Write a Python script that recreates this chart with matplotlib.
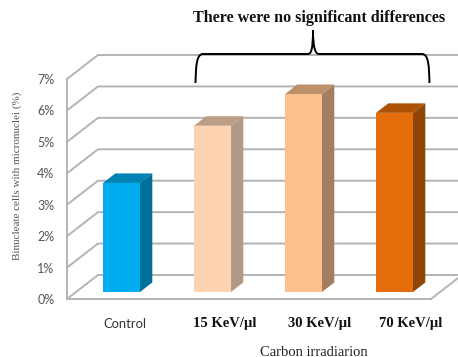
import matplotlib
matplotlib.use("Agg")
import matplotlib.pyplot as plt
from matplotlib.patches import PathPatch, Polygon
from matplotlib.path import Path
from matplotlib.transforms import Affine2D

categories = ["Control", "15 KeV/µl", "30 KeV/µl", "70 KeV/µl"]
values = [3.47, 5.29, 6.30, 5.70]
y_ticks = [0, 1, 2, 3, 4, 5, 6, 7]
y_tick_labels = ["0%", "1%", "2%", "3%", "4%", "5%", "6%", "7%"]
y_label = "Binucleate cells with micronuclei (%)"
x_label = "Carbon irradiarion"
note = "There were no significant differences"

front_colors = ["#00AEEF", "#FDD3B1", "#FBC08D", "#E56D0B"]
side_colors = ["#00709A", "#B09A85", "#A37F5F", "#8F4504"]
top_colors = ["#0083B3", "#BC9E84", "#BC9068", "#AB5204"]
grid_color = "#B4B4B4"

W, H = 458, 357
fig = plt.figure(figsize=(W / 100, H / 100), dpi=100, facecolor="white")
# front plane of the fake 3D box, in image pixels: x 67-431, y 79-299
ax = fig.add_axes([67 / W, (H - 299) / H, 364 / W, 220 / H])
ax.set_xlim(-0.5, 3.5)
ax.set_ylim(0, 7)
ux = 4 / 364  # data units per pixel
uy = 7 / 220

for s in ("top", "right"):
    ax.spines[s].set_visible(False)
for s in ("left", "bottom"):
    ax.spines[s].set_color(grid_color)
    ax.spines[s].set_linewidth(1.4)
ax.set_xticks([])
ax.set_yticks(y_ticks)
ax.set_yticklabels(y_tick_labels, fontfamily="Lato", fontsize=9, color="#555555")
ax.tick_params(axis="y", length=0, pad=9)

# walls
wall_dx, wall_dy = 31 * ux, 24 * uy
for v in y_ticks:
    ax.plot([-0.5, -0.5 + wall_dx, 3.6 + wall_dx], [v, v + wall_dy, v + wall_dy],
            color=grid_color, lw=1.4, clip_on=False, zorder=1)
ax.plot([3.5, 3.5 + wall_dx], [0, wall_dy], color=grid_color, lw=1.4,
        clip_on=False, zorder=1)

# bars, front face sits a little behind the front plane
shift_x, shift_y = 9 * ux, 7 * uy
bar_w = 37 * ux
depth_x, depth_y = 12.3 * ux, 9.5 * uy
for i, val in enumerate(values):
    cx = i + shift_x
    left, right = cx - bar_w / 2, cx + bar_w / 2
    top = shift_y + val
    ax.bar(cx, val, bar_w, bottom=shift_y, color=front_colors[i], zorder=3)
    ax.add_patch(Polygon(
        [(right, shift_y), (right + depth_x, shift_y + depth_y),
         (right + depth_x, top + depth_y), (right, top)],
        color=side_colors[i], lw=0, zorder=3, clip_on=False))
    ax.add_patch(Polygon(
        [(left, top), (left + depth_x, top + depth_y),
         (right + depth_x, top + depth_y), (right, top)],
        color=top_colors[i], lw=0, zorder=3, clip_on=False))


def px(x, y):
    return x / W, (H - y) / H


# pasted text boxes, not evenly spaced in the original
label_x = [125, 225, 320, 411]
for i, name in enumerate(categories):
    if i == 0:
        fig.text(*px(label_x[i], 324), name, ha="center", va="center",
                 fontfamily="Lato", fontsize=9.4, color="#333333")
    else:
        fig.text(*px(label_x[i], 324), name, ha="center", va="center",
                 fontfamily="Liberation Serif", fontweight="bold", fontsize=10.5, color="#111111")

fig.text(*px(17, 176), y_label, rotation=90, ha="center", va="center",
         fontfamily="Liberation Serif", fontsize=8, color="#555555")
fig.text(*px(314, 352), x_label, ha="center", va="center",
         fontfamily="Liberation Serif", fontsize=10.5, color="#222222")
fig.text(*px(319.5, 18), note, ha="center", va="center",
         fontfamily="Liberation Serif", fontweight="bold", fontsize=11.6, color="#111111")

# curly brace over the three carbon bars
verts = [(195.5, 83), (196, 68), (196, 54), (203, 54), (308, 54),
         (311, 54), (313, 50), (313, 30), (313, 50), (316, 54), (319, 54),
         (422, 54), (429, 54), (429, 68), (429.5, 83)]
codes = [Path.MOVETO, Path.CURVE4, Path.CURVE4, Path.CURVE4, Path.LINETO,
         Path.CURVE4, Path.CURVE4, Path.CURVE4, Path.CURVE4, Path.CURVE4, Path.CURVE4,
         Path.LINETO, Path.CURVE4, Path.CURVE4, Path.CURVE4]
to_fig = Affine2D().scale(1 / W, -1 / H).translate(0, 1) + fig.transFigure
fig.add_artist(PathPatch(Path(verts, codes), transform=to_fig, fill=False,
                         edgecolor="black", lw=1.4))

fig.savefig("out.png", dpi=100)
